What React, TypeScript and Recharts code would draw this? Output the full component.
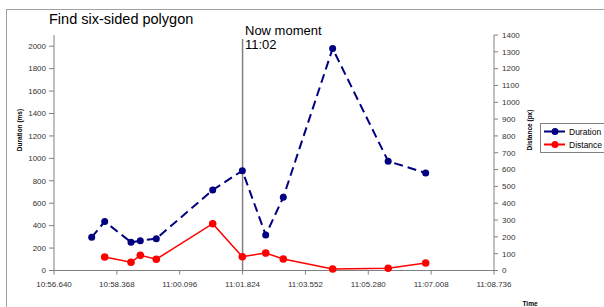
import React from 'react';
import { ComposedChart, Line, XAxis, YAxis, ReferenceLine } from 'recharts';

// time values in "minutes*60 + seconds" after 10:00 labels (10:56.640 -> 656.640)
const times = [657.676, 658.034, 658.757, 659.013, 659.452, 661.003, 661.817, 662.46, 662.944, 664.3, 665.827, 666.858];
const durationMs = [296, 437, 252, 266, 284, 718, 890, 317, 653, 1979, 974, 870];
const distancePx = [null, 80, 49, 90, 67, 278, 82, 104, 68, 9, 13, 45];
const xTicks = [656.64, 658.368, 660.096, 661.824, 663.552, 665.28, 667.008, 668.736];
const leftTicks = [0, 200, 400, 600, 800, 1000, 1200, 1400, 1600, 1800, 2000];
const rightTicks = [0, 100, 200, 300, 400, 500, 600, 700, 800, 900, 1000, 1100, 1200, 1300, 1400];
const nowMoment = 661.824;
const nowLineTop = 2065;

const data = times.map((t, i) => ({ t, duration: durationMs[i], distance: distancePx[i] }));

const fmtTime = (v: number) => {
  const m = Math.floor(v / 60 + 1e-9);
  const s = v - m * 60;
  const ss = s.toFixed(3).padStart(6, '0');
  return `${m}:${ss}`;
};

const FONT = '"Liberation Sans", Arial, sans-serif';
const tickStyle = { fontSize: 8, fill: '#333', fontFamily: FONT };

export default function App() {
  return (
    <div style={{ position: 'absolute', left: 0, top: 0, width: 604, height: 307, background: '#fff', overflow: 'hidden', fontFamily: FONT }}>
      <div style={{ position: 'absolute', left: 6, top: 9, width: 700, height: 400, borderLeft: '1px solid #a0a0a0', borderTop: '1px solid #a0a0a0' }} />
      <ComposedChart width={604} height={307} data={data} margin={{ top: 35, right: 70, bottom: 6.5, left: 8 }} style={{ position: 'absolute', left: 0, top: 0 }}>
        <XAxis
          dataKey="t"
          type="number"
          domain={[656.64, 668.736]}
          ticks={xTicks}
          tickFormatter={fmtTime}
          stroke="#808080"
          tick={tickStyle}
          tickSize={4}
          tickMargin={7}
          height={30}
          interval={0}
          allowDataOverflow
        />
        <YAxis
          yAxisId="left"
          domain={[0, 2100]}
          ticks={leftTicks}
          stroke="#808080"
          tick={tickStyle}
          tickSize={5}
          tickMargin={3}
          width={46}
          interval={0}
        />
        <YAxis
          yAxisId="right"
          orientation="right"
          domain={[0, 1400]}
          ticks={rightTicks}
          stroke="#808080"
          tick={tickStyle}
          tickSize={4}
          tickMargin={4}
          width={40}
          interval={0}
        />
        <ReferenceLine
          yAxisId="left"
          segment={[{ x: nowMoment, y: 0 }, { x: nowMoment, y: nowLineTop }]}
          stroke="#808080"
          strokeWidth={1.5}
          ifOverflow="visible"
        />
        <Line
          yAxisId="left"
          dataKey="duration"
          stroke="#000080"
          strokeWidth={2}
          strokeDasharray="9 5"
          dot={{ r: 3.5, fill: '#000080', stroke: '#000080', strokeWidth: 0, strokeDasharray: '' }}
          isAnimationActive={false}
        />
        <Line
          yAxisId="right"
          dataKey="distance"
          stroke="#ff0000"
          strokeWidth={1.5}
          dot={{ r: 3.8, fill: '#ff0000', stroke: '#ff0000', strokeWidth: 0 }}
          isAnimationActive={false}
        />
      </ComposedChart>
      <div style={{ position: 'absolute', left: 49, top: 11, fontSize: 14.5, color: '#000', whiteSpace: 'nowrap' }}>Find six-sided polygon</div>
      <div style={{ position: 'absolute', left: 245, top: 24.5, fontSize: 13, lineHeight: '12px', color: '#000', whiteSpace: 'nowrap' }}>Now moment</div>
      <div style={{ position: 'absolute', left: 245, top: 39.3, fontSize: 13, lineHeight: '12px', color: '#000', whiteSpace: 'nowrap' }}>11:02</div>
      <div style={{ position: 'absolute', left: 19, top: 130, transform: 'translate(-50%,-50%) rotate(-90deg)', fontSize: 6.5, fontWeight: 'bold', whiteSpace: 'nowrap' }}>Duration (ms)</div>
      <div style={{ position: 'absolute', left: 529, top: 130, transform: 'translate(-50%,-50%) rotate(-90deg)', fontSize: 6.5, fontWeight: 'bold', whiteSpace: 'nowrap' }}>Distance (px)</div>
      <div style={{ position: 'absolute', left: 530, top: 303, transform: 'translate(-50%,-50%)', fontSize: 6.5, fontWeight: 'bold', whiteSpace: 'nowrap' }}>Time</div>
      <div style={{ position: 'absolute', left: 540, top: 123, width: 80, height: 28, border: '1px solid #808080', background: '#fff' }}>
        <svg width={24} height={28} style={{ position: 'absolute', left: 2, top: 0 }}>
          <line x1={1} y1={7.5} x2={22} y2={7.5} stroke="#000080" strokeWidth={2} />
          <circle cx={12} cy={7.5} r={3.5} fill="#000080" />
          <line x1={1} y1={20.5} x2={22} y2={20.5} stroke="#ff0000" strokeWidth={2} />
          <circle cx={12} cy={20.5} r={3.5} fill="#ff0000" />
        </svg>
        <div style={{ position: 'absolute', left: 28, top: 2, fontSize: 8.5, lineHeight: '13px', color: '#000', whiteSpace: 'nowrap' }}>
          Duration<br />Distance
        </div>
      </div>
    </div>
  );
}
